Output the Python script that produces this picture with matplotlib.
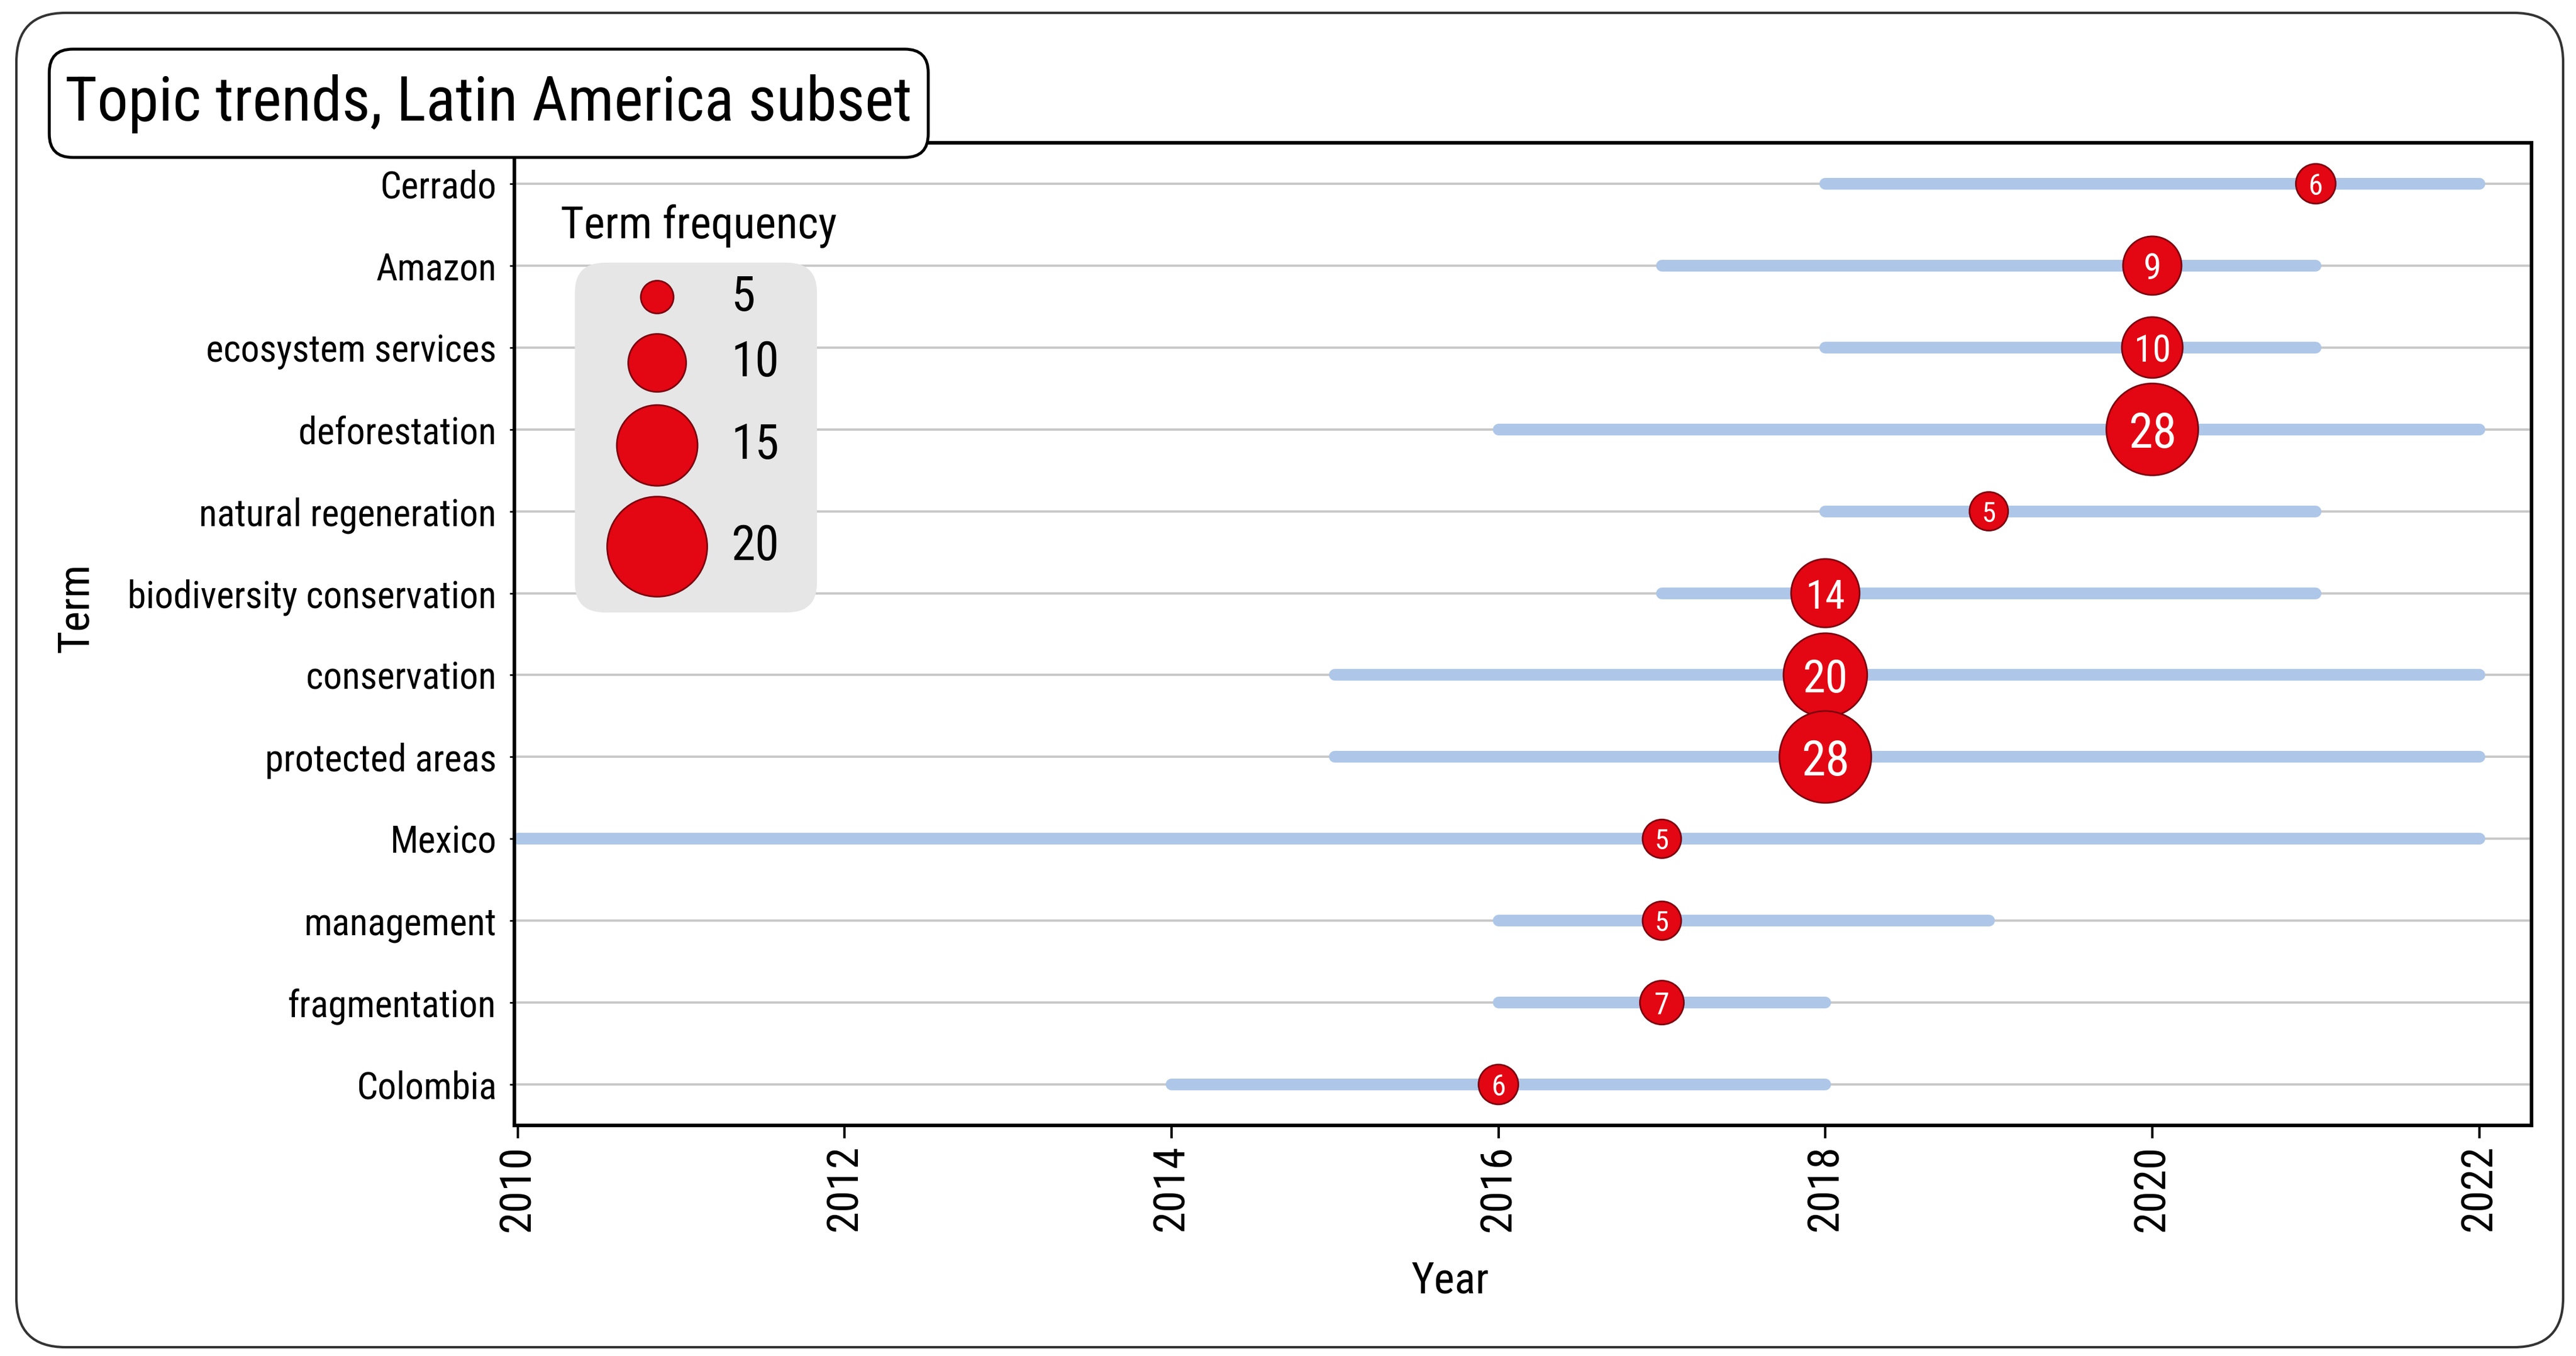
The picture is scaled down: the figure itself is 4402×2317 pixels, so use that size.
import numpy as np
import matplotlib
matplotlib.use('Agg')
import matplotlib.pyplot as plt
from matplotlib import font_manager
from matplotlib.patches import FancyBboxPatch

# data, top row first
terms = ['Cerrado', 'Amazon', 'ecosystem services', 'deforestation',
         'natural regeneration', 'biodiversity conservation', 'conservation',
         'protected areas', 'Mexico', 'management', 'fragmentation', 'Colombia']
year_start = [2018, 2017, 2018, 2016, 2018, 2017, 2015, 2015, 2010, 2016, 2016, 2014]
year_end = [2022, 2021, 2021, 2022, 2021, 2021, 2022, 2022, 2022, 2019, 2018, 2018]
year_peak = [2021, 2020, 2020, 2020, 2019, 2018, 2018, 2018, 2017, 2017, 2017, 2016]
freq = [6, 9, 10, 28, 5, 14, 20, 28, 5, 5, 7, 6]

legend_freq = [5, 10, 15, 20]
x_ticks = [2010, 2012, 2014, 2016, 2018, 2020, 2022]

names = {f.name for f in font_manager.fontManager.ttflist}
font = 'DejaVu Sans'
for cand in ['Liberation Sans Narrow', 'Roboto Condensed', 'Open Sans Condensed', 'Noto Sans']:
    if cand in names:
        font = cand
        break
plt.rcParams['font.family'] = [font, 'DejaVu Sans']

DPI = 200
W, H = 4402, 2317
fig = plt.figure(figsize=(W / DPI, H / DPI), dpi=DPI)

# outer rounded frame
outer = FancyBboxPatch((0.14, 0.075), 21.76, 11.40,
                       boxstyle='round,pad=0,rounding_size=0.42',
                       transform=fig.dpi_scale_trans, fc='none', ec='#333333', lw=1.5,
                       zorder=-1)
fig.patches.append(outer)

ax = fig.add_axes([879 / W, 1 - 1923 / H, (4326 - 879) / W, (1923 - 244) / H])


def px2pt(px):
    return px * 72 / DPI


def bubble_d(f):
    # diameter in pixels
    return np.interp(f, [5, 6, 7, 9, 10, 14, 20, 28], [66, 68, 75, 100, 104, 117, 143, 157])


def legend_d(f):
    return np.interp(f, [5, 10, 15, 20], [56, 99, 138, 171])


y = np.arange(len(terms))[::-1]

for yy in y:
    ax.axhline(yy, color='#c8c8c8', lw=1.4, zorder=1)

ax.hlines(y, year_start, year_end, color='#aec7e8', lw=7.2, capstyle='round', zorder=2)

d = bubble_d(np.array(freq))
ax.scatter(year_peak, y, s=px2pt(d) ** 2, c='#e30613', edgecolors='#7a000e',
           linewidths=1.0, zorder=3)
for xp, yy, f, dd in zip(year_peak, y, freq, d):
    ax.text(xp, yy, str(f), color='white', ha='center', va='center_baseline',
            fontsize=px2pt(0.38 * dd + 24), zorder=4)

ax.set_xlim(2009.98, 2022.32)
ax.set_ylim(-0.5, len(terms) - 0.5)
ax.set_yticks(y)
ax.set_yticklabels(terms, fontsize=23)
ax.set_xticks(x_ticks)
ax.set_xticklabels([str(t) for t in x_ticks], rotation=90, fontsize=27)
ax.tick_params(axis='x', length=8, width=1.5, pad=4)
ax.tick_params(axis='y', length=3, width=1.0, pad=8)
for sp in ax.spines.values():
    sp.set_linewidth(2.2)
    sp.set_color('black')
ax.set_xlabel('Year', fontsize=27)
ax.xaxis.set_label_coords(0.464, -0.1375)
ax.set_ylabel('Term', fontsize=27)
ax.yaxis.set_label_coords(-0.207, 0.527)

# size legend
box = FancyBboxPatch((0.030, 0.522), 0.120, 0.356,
                     boxstyle='round,pad=0,rounding_size=0.015',
                     transform=ax.transAxes, fc='#e6e6e6', ec='none', zorder=5,
                     mutation_aspect=2.0)
ax.add_patch(box)
ax.text(0.0228, 0.915, 'Term frequency', transform=ax.transAxes, fontsize=27.5,
        ha='left', va='center', zorder=6)
leg_y = [0.843, 0.776, 0.692, 0.589]
ld = legend_d(np.array(legend_freq))
ax.scatter([0.0708] * len(legend_freq), leg_y, s=px2pt(ld) ** 2, c='#e30613',
           edgecolors='#7a000e', linewidths=1.0, transform=ax.transAxes, zorder=6)
for ly, f in zip(leg_y, legend_freq):
    ax.text(0.1075, ly, str(f), transform=ax.transAxes, fontsize=30,
            ha='left', va='center', zorder=6)

# title box
tbox = FancyBboxPatch((0.421, 10.24), 7.51, 0.925,
                      boxstyle='round,pad=0,rounding_size=0.2',
                      transform=fig.dpi_scale_trans, fc='white', ec='black', lw=1.8,
                      zorder=10)
fig.patches.append(tbox)
fig.text(835 / W, 1 - 177 / H, 'Topic trends, Latin America subset', fontsize=38,
         ha='center', va='center', zorder=11)

fig.savefig('out.png', dpi=DPI)
